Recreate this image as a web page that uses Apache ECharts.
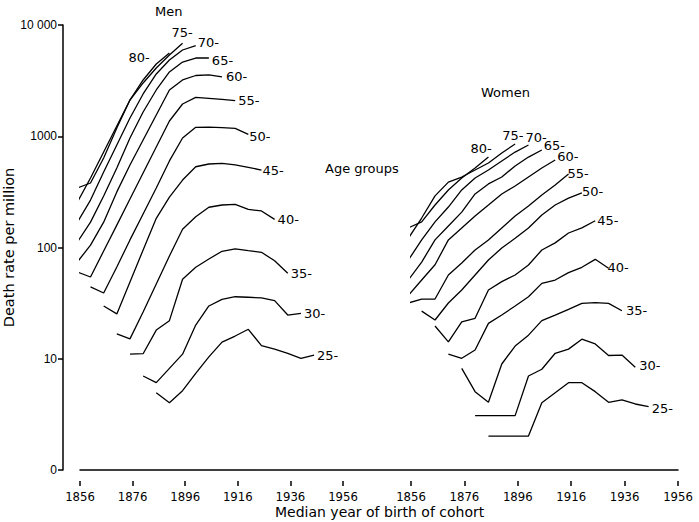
<!DOCTYPE html>
<html><head><meta charset="utf-8">
<script src="https://cdn.jsdelivr.net/npm/echarts@6.0.0/dist/echarts.min.js"></script>
<style>html,body{margin:0;padding:0;background:#fff}#c{width:699px;height:522px}</style>
</head><body><div id="c"></div>
<script>
// ---- data ----
const ageGroups = ['25-','30-','35-','40-','45-','50-','55-','60-','65-','70-','75-','80-'];
const xTicks = [1856, 1876, 1896, 1916, 1936, 1956];
const yTickLabels = {1: '0', 10: '10', 100: '100', 1000: '1000', 10000: '10 000'};
const cohortStep = 5;
const menStartYear   = [1885,1880,1875,1870,1865,1860,1855,1855,1855,1855,1855,1855];
const womenStartYear = [1885,1880,1875,1870,1865,1860,1855,1855,1855,1855,1855,1855];

const men25 = [4.95, 4.03, 5.16, 7.4, 10.4, 14.1, 16.0, 18.4, 13.1, 12.2, 11.2, 10.1, 10.8];
const men30 = [7.0, 6.1, 8.2, 11.0, 20.1, 29.8, 34.2, 36.1, 35.7, 35.2, 33.3, 24.7, 25.6];
const men35 = [11.0, 11.1, 18.1, 22.0, 51.8, 66.4, 78.8, 92.5, 97.0, 93.6, 90.5, 76.1, 58.6];
const men40 = [16.7, 15.1, 26.3, 47.0, 83.9, 146, 189, 230, 241, 244, 220, 213, 179];
const men45 = [29.8, 25.3, 49.0, 95.0, 183, 284, 404, 532, 563, 571, 552, 526, 497];
const men50 = [44.2, 39.0, 66.8, 117, 200, 343, 600, 964, 1203, 1210, 1195, 1178, 1040];
const men55 = [60.2, 54.3, 93.0, 159, 273, 467, 800, 1371, 1950, 2239, 2193, 2148, 2089];
const men60 = [74.1, 105, 169, 316, 552, 925, 1552, 2606, 3206, 3516, 3556, 3412];
const men65 = [112, 169, 290, 518, 964, 1652, 2606, 3784, 4645, 5050, 5050];
const men70 = [169, 267, 477, 834, 1459, 2399, 3631, 4842, 5961, 6516];
const men75 = [256, 421, 722, 1236, 2118, 3013, 4103, 5370, 6850];
const men80 = [343, 380, 637, 1186, 2118, 3206, 4458, 5598];

const women25 = [2.02, 2.02, 2.02, 2.02, 4.03, 4.95, 6.09, 6.09, 5.06, 4.06, 4.26, 3.92, 3.71];
const women30 = [3.08, 3.08, 3.08, 3.08, 7.0, 8.04, 11.2, 12.2, 15.0, 13.6, 10.7, 10.8, 8.38];
const women35 = [8.2, 5.06, 4.06, 8.97, 13.0, 16.3, 22.0, 24.7, 27.8, 31.5, 31.9, 31.5, 27.0];
const women40 = [11.0, 10.1, 12.0, 20.8, 24.7, 29.8, 36.1, 47.6, 51.0, 59.4, 66.4, 78.3, 65.0];
const women45 = [19.7, 14.2, 21.5, 23.1, 41.5, 49.3, 56.6, 69.6, 95, 110, 135, 150, 174];
const women50 = [26.8, 22.3, 31.7, 41.5, 56.6, 77.2, 99, 121, 150, 196, 241, 278, 310];
const women55 = [31.7, 34.4, 34.4, 56.6, 72.6, 95, 117, 150, 192, 236, 297, 365, 457];
const women60 = [37, 51, 70, 117, 150, 192, 241, 303, 357, 430, 518, 612];
const women65 = [51, 74, 117, 156, 208, 303, 373, 430, 541, 650, 752];
const women70 = [77, 117, 170, 231, 329, 421, 497, 599, 721, 834];
const women75 = [121, 184, 291, 387, 430, 497, 575, 707, 851];
const women80 = [150, 170, 241, 329, 421, 518, 650];

const menValues   = [men25, men30, men35, men40, men45, men50, men55, men60, men65, men70, men75, men80];
const womenValues = [women25, women30, women35, women40, women45, women50, women55, women60, women65, women70, women75, women80];

// ---- styles (label nudges) ----
const menLabelOffset = [[0,0],[0,0],[0,0],[0,0],[-2,0],[-2,2],[0,0],[1,0],[0,2],[-1,-3],[-14,-11],[-44,4]];
const womenLabelOffset = [[0,2],[1,-2],[1,0],[-4,-1],[-1,0],[-3,-1],[-4,-1],[-1,-3],[-1,-5],[-6,-8],[-16,-9],[-21,-9]];

const FONT = 'DejaVu Sans';
const chart = echarts.init(document.getElementById('c'), null, {renderer: 'svg'});

function buildSeries(values, starts, offsets, axisIdx, prefix) {
  return values.map((vals, i) => ({
    id: prefix + ageGroups[i],
    name: ageGroups[i],
    type: 'line',
    xAxisIndex: axisIdx, yAxisIndex: axisIdx,
    showSymbol: false, symbol: 'none',
    animation: false,
    silent: true,
    lineStyle: {color: '#000', width: 1.3},
    data: vals.map((v, k) => [starts[i] + cohortStep * k, v]),
    endLabel: {
      show: true, formatter: ageGroups[i], color: '#000',
      fontFamily: FONT, fontSize: 13, distance: 3, offset: offsets[i]
    }
  }));
}

const xAxisCommon = {
  type: 'value', min: xTicks[0], max: xTicks[xTicks.length - 1], interval: 20,
  position: 'bottom', offset: 11,
  axisLine: {show: false},
  axisTick: {show: true, length: 5, lineStyle: {color: '#000', width: 1.5}},
  axisLabel: {color: '#000', fontFamily: 'Liberation Sans Narrow, DejaVu Sans Condensed, sans-serif', fontSize: 13, margin: 9,
              formatter: v => String(Math.round(v))},
  splitLine: {show: false}
};

const option = {
  backgroundColor: '#fff',
  animation: false,
  grid: [
    {left: 80, width: 263, top: 25, height: 445},
    {left: 411, width: 267, top: 25, height: 445},
    {left: 80, width: 598, top: 25, height: 445}
  ],
  xAxis: [
    Object.assign({gridIndex: 0}, xAxisCommon),
    Object.assign({gridIndex: 1}, xAxisCommon),
    {gridIndex: 2, type: 'value', min: 0, max: 1, position: 'bottom', offset: 11,
     axisLine: {show: true, lineStyle: {color: '#000', width: 1.5}},
     axisTick: {show: false}, axisLabel: {show: false}, splitLine: {show: false}}
  ],
  yAxis: [
    {gridIndex: 0, type: 'log', logBase: 10, min: 1, max: 10000, offset: 17,
     axisLine: {show: true, lineStyle: {color: '#000', width: 1.5}},
     axisTick: {show: true, length: 5, lineStyle: {color: '#000', width: 1.5}},
     minorTick: {show: false},
     axisLabel: {color: '#000', fontFamily: 'Liberation Sans, sans-serif', fontSize: 12, margin: 6,
                 formatter: v => yTickLabels[Math.round(v)] || ''},
     splitLine: {show: false},
     name: 'Death rate per million', nameLocation: 'middle', nameGap: 43,
     nameTextStyle: {color: '#000', fontFamily: FONT, fontSize: 14.5}},
    {gridIndex: 1, type: 'log', logBase: 10, min: 1, max: 10000, show: false},
    {gridIndex: 2, type: 'value', min: 0, max: 1, show: false}
  ],
  graphic: [
    {type: 'text', left: 155, top: 5, style: {text: 'Men', fill: '#000', font: '13px ' + FONT}},
    {type: 'text', left: 481, top: 86, style: {text: 'Women', fill: '#000', font: '13px ' + FONT}},
    {type: 'text', left: 325, top: 162, style: {text: 'Age groups', fill: '#000', font: '13px ' + FONT}},
    {type: 'text', left: 275, top: 505, style: {text: 'Median year of birth of cohort', fill: '#000', font: '14px ' + FONT}}
  ],
  series: buildSeries(menValues, menStartYear, menLabelOffset, 0, 'm')
    .concat(buildSeries(womenValues, womenStartYear, womenLabelOffset, 1, 'w'))
};
chart.setOption(option);
</script></body></html>
